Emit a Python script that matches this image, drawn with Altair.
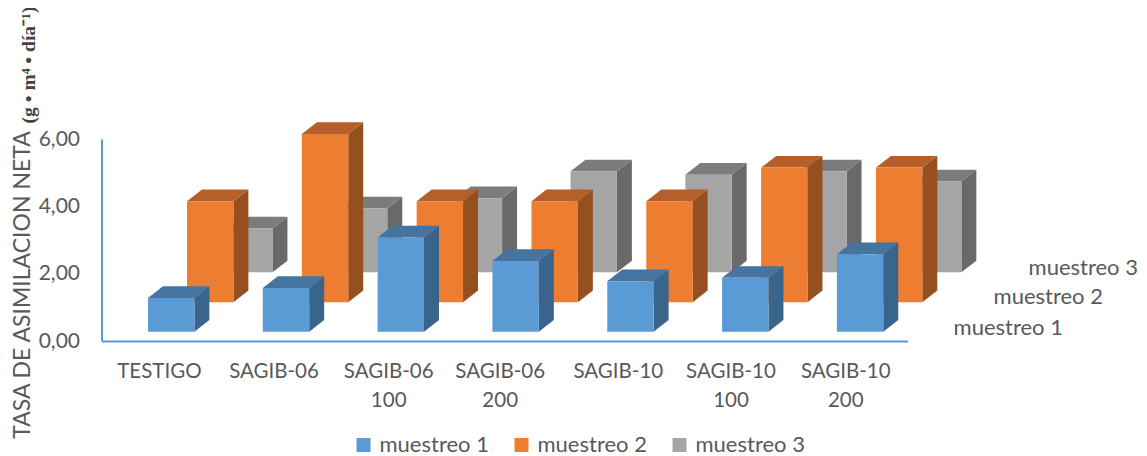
import altair as alt
import pandas as pd

categories = ["TESTIGO", "SAGIB-06", "SAGIB-06|100", "SAGIB-06|200", "SAGIB-10", "SAGIB-10|100", "SAGIB-10|200"]
category_ticks = [0.50, 1.498, 2.497, 3.468, 4.497, 5.478, 6.478]
series_names = ["muestreo 1", "muestreo 2", "muestreo 3"]
muestreo_1 = [1.0, 1.3, 2.8, 2.1, 1.5, 1.6, 2.3]
muestreo_2 = [3.0, 5.0, 3.0, 3.0, 3.0, 4.0, 4.0]
muestreo_3 = [1.3, 1.9, 2.2, 3.0, 2.9, 3.0, 2.7]
tick_values = [0, 2, 4, 6]

series_values = [muestreo_1, muestreo_2, muestreo_3]
front_colors = ["#5B9BD5", "#ED7D31", "#A5A5A5"]
side_colors = ["#39648B", "#96501F", "#696969"]
top_colors = ["#44749F", "#B5602A", "#7C7C7C"]

# pseudo-3D geometry, in scale units
BAR_W = 0.404
DX = 0.1304
DY = 0.347
START = 0.405
STEP_X = 0.34
BASES = [0.276, 1.15, 2.04]

FONT = "Lato"
GREY = "#595959"


def faces(idx):
    front, side, top = [], [], []
    for i, v in enumerate(series_values[idx]):
        x0 = i + START + idx * STEP_X
        b = BASES[idx]
        t = b + v
        w = BAR_W
        front.append(dict(series=series_names[idx], x0=x0, x1=x0 + w, b=b, t=t))
        side.append(dict(c=i, x=x0 + w, lo=b, hi=t))
        side.append(dict(c=i, x=x0 + w + DX, lo=b + DY, hi=t + DY))
        top.append(dict(c=i, x=x0, lo=t, hi=t))
        top.append(dict(c=i, x=x0 + DX, lo=t, hi=t + DY))
        top.append(dict(c=i, x=x0 + w, lo=t, hi=t + DY))
        top.append(dict(c=i, x=x0 + w + DX, lo=t + DY, hi=t + DY))
    return pd.DataFrame(front), pd.DataFrame(side), pd.DataFrame(top)


x_scale = alt.Scale(domain=[0, 7.02], nice=False, zero=False)
y_scale = alt.Scale(domain=[0, 6], nice=False)
labels_js = "[" + ",".join("'" + c + "'" for c in categories) + "]"

x_axis = alt.Axis(
    values=category_ticks,
    labelExpr="split(" + labels_js + "[floor(datum.value)],'|')",
    domainColor="#5B9BD5", domainWidth=2, ticks=False, grid=False,
    labelFont=FONT, labelFontSize=20.5, labelColor=GREY, labelPadding=20,
    labelLineHeight=29, labelAngle=0, labelOverlap=False, labelFlush=False, title=None,
)
y_axis = alt.Axis(
    values=tick_values,
    labelExpr="replace(format(datum.value,'.2f'),'.',',')",
    domainColor="#5B9BD5", domainWidth=2, ticks=False, grid=False,
    labelFont=FONT, labelFontSize=21, labelColor=GREY, labelPadding=22,
    title="TASA DE ASIMILACION NETA", titleFont=FONT, titleFontSize=23,
    titleColor=GREY, titleFontWeight="normal", titleX=-79, titleY=145.5,
    titleAngle=270, titleAlign="center", titleBaseline="middle",
)

layers = []
for idx in [2, 1, 0]:
    front, side, top = faces(idx)
    for df, col in ((side, side_colors[idx]), (top, top_colors[idx])):
        layers.append(
            alt.Chart(df).mark_area(color=col, interpolate="linear").encode(
                x=alt.X("x:Q", scale=x_scale, axis=x_axis),
                y=alt.Y("lo:Q", scale=y_scale, axis=y_axis),
                y2="hi:Q",
                detail="c:N",
            )
        )
    layers.append(
        alt.Chart(front).mark_rect().encode(
            x=alt.X("x0:Q", scale=x_scale, axis=x_axis),
            x2="x1:Q",
            y=alt.Y("b:Q", scale=y_scale, axis=y_axis),
            y2="t:Q",
            color=alt.Color(
                "series:N",
                scale=alt.Scale(domain=series_names, range=front_colors),
                legend=alt.Legend(
                    orient="none", legendX=251, legendY=295, direction="horizontal",
                    title=None, columns=3, columnPadding=21, symbolType="square",
                    symbolSize=196, symbolStrokeWidth=0, labelFont=FONT, labelFontSize=22,
                    labelColor=GREY, labelOffset=5, labelLimit=200,
                ),
            ),
        )
    )

# depth-axis labels and the second part of the axis title
for name, rx, ry in zip(series_names, [961.5, 1001.5, 1036.5], [189, 158, 129]):
    layers.append(
        alt.Chart(pd.DataFrame({"label": [name]})).mark_text(
            font=FONT, fontSize=22, color=GREY, align="right", baseline="middle"
        ).encode(text="label:N", x=alt.value(rx), y=alt.value(ry))
    )

layers.append(
    alt.Chart(pd.DataFrame({"label": ["(g \u2022 m\u2074 \u2022 d\u00eda\u207b\u00b9)"]})).mark_text(
        font="Liberation Serif", fontWeight="bold", fontSize=19.5, color="#444444",
        angle=270, align="center", baseline="middle",
    ).encode(text="label:N", x=alt.value(-72.5), y=alt.value(-74))
)

chart = alt.layer(*layers).properties(
    width=806, height=202,
    padding={"left": 93.5, "top": 131, "right": 231.5, "bottom": 115},
    autosize=alt.AutoSizeParams(type="none"),
    background="white",
).configure_view(stroke=None)

chart.save("out.html", embed_options={"renderer": "svg", "actions": False})
